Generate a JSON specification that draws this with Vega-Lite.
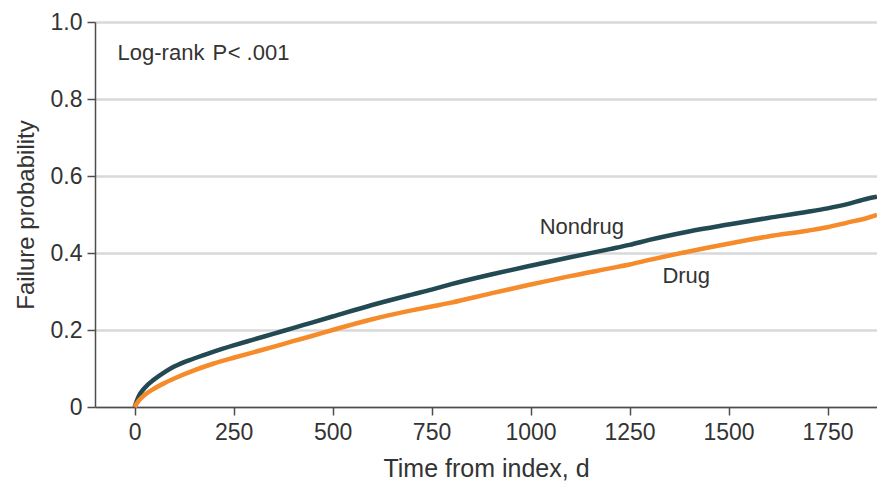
{
  "$schema": "https://vega.github.io/schema/vega-lite/v6.json",
  "width": 782,
  "height": 385,
  "autosize": "none",
  "padding": {"left": 95, "top": 22, "right": 0, "bottom": 76},
  "config": {
    "view": {"stroke": null},
    "font": "Liberation Sans",
    "axis": {
      "domainColor": "#4d4d4d",
      "domainWidth": 1.5,
      "tickColor": "#4d4d4d",
      "tickWidth": 1.5,
      "tickSize": 8,
      "labelColor": "#333333",
      "titleColor": "#333333",
      "labelFontSize": 23,
      "titleFontWeight": "normal"
    }
  },
  "datasets": {
    "curves": [
      {"group": "Nondrug", "t": 0, "p": 0},
      {"group": "Nondrug", "t": 10, "p": 0.027},
      {"group": "Nondrug", "t": 25, "p": 0.049},
      {"group": "Nondrug", "t": 50, "p": 0.072},
      {"group": "Nondrug", "t": 75, "p": 0.09},
      {"group": "Nondrug", "t": 100, "p": 0.105},
      {"group": "Nondrug", "t": 150, "p": 0.126},
      {"group": "Nondrug", "t": 200, "p": 0.144},
      {"group": "Nondrug", "t": 250, "p": 0.16},
      {"group": "Nondrug", "t": 300, "p": 0.175},
      {"group": "Nondrug", "t": 350, "p": 0.19},
      {"group": "Nondrug", "t": 400, "p": 0.205},
      {"group": "Nondrug", "t": 450, "p": 0.22},
      {"group": "Nondrug", "t": 500, "p": 0.235},
      {"group": "Nondrug", "t": 600, "p": 0.265},
      {"group": "Nondrug", "t": 700, "p": 0.292},
      {"group": "Nondrug", "t": 750, "p": 0.305},
      {"group": "Nondrug", "t": 800, "p": 0.319},
      {"group": "Nondrug", "t": 900, "p": 0.344},
      {"group": "Nondrug", "t": 1000, "p": 0.367},
      {"group": "Nondrug", "t": 1100, "p": 0.389},
      {"group": "Nondrug", "t": 1200, "p": 0.41},
      {"group": "Nondrug", "t": 1250, "p": 0.421},
      {"group": "Nondrug", "t": 1300, "p": 0.434},
      {"group": "Nondrug", "t": 1400, "p": 0.456},
      {"group": "Nondrug", "t": 1500, "p": 0.474},
      {"group": "Nondrug", "t": 1600, "p": 0.491},
      {"group": "Nondrug", "t": 1700, "p": 0.507},
      {"group": "Nondrug", "t": 1750, "p": 0.516},
      {"group": "Nondrug", "t": 1800, "p": 0.527},
      {"group": "Nondrug", "t": 1850, "p": 0.541},
      {"group": "Nondrug", "t": 1875, "p": 0.546},
      {"group": "Drug", "t": 0, "p": 0},
      {"group": "Drug", "t": 10, "p": 0.016},
      {"group": "Drug", "t": 25, "p": 0.031},
      {"group": "Drug", "t": 50, "p": 0.048},
      {"group": "Drug", "t": 75, "p": 0.062},
      {"group": "Drug", "t": 100, "p": 0.074},
      {"group": "Drug", "t": 150, "p": 0.095},
      {"group": "Drug", "t": 200, "p": 0.113},
      {"group": "Drug", "t": 250, "p": 0.128},
      {"group": "Drug", "t": 300, "p": 0.142},
      {"group": "Drug", "t": 350, "p": 0.156},
      {"group": "Drug", "t": 400, "p": 0.171},
      {"group": "Drug", "t": 450, "p": 0.185},
      {"group": "Drug", "t": 500, "p": 0.2},
      {"group": "Drug", "t": 600, "p": 0.228},
      {"group": "Drug", "t": 700, "p": 0.251},
      {"group": "Drug", "t": 750, "p": 0.261},
      {"group": "Drug", "t": 800, "p": 0.271},
      {"group": "Drug", "t": 900, "p": 0.295},
      {"group": "Drug", "t": 1000, "p": 0.318},
      {"group": "Drug", "t": 1100, "p": 0.34},
      {"group": "Drug", "t": 1200, "p": 0.36},
      {"group": "Drug", "t": 1250, "p": 0.37},
      {"group": "Drug", "t": 1300, "p": 0.382},
      {"group": "Drug", "t": 1400, "p": 0.404},
      {"group": "Drug", "t": 1500, "p": 0.424},
      {"group": "Drug", "t": 1600, "p": 0.443},
      {"group": "Drug", "t": 1700, "p": 0.458},
      {"group": "Drug", "t": 1750, "p": 0.467},
      {"group": "Drug", "t": 1800, "p": 0.479},
      {"group": "Drug", "t": 1850, "p": 0.491},
      {"group": "Drug", "t": 1875, "p": 0.499}
    ],
    "labels": [
      {"label": "Nondrug", "t": 1023, "p": 0.449, "style": "normal"},
      {"label": "Drug", "t": 1333, "p": 0.322, "style": "normal"},
      {"label": "Log-rank", "t": -43, "p": 0.901, "style": "normal"},
      {"label": "P", "t": 197, "p": 0.901, "style": "italic"},
      {"label": "< .001", "t": 235, "p": 0.901, "style": "normal"}
    ]
  },
  "layer": [
    {
      "data": {"name": "curves"},
      "mark": {"type": "line", "strokeWidth": 4.5, "interpolate": "monotone"},
      "encoding": {
        "x": {
          "field": "t",
          "type": "quantitative",
          "scale": {"domain": [-100, 1875], "nice": false, "zero": false},
          "axis": {
            "values": [0, 250, 500, 750, 1000, 1250, 1500, 1750],
            "format": "d",
            "grid": false,
            "labelPadding": 6,
            "title": "Time from index, d",
            "titleFontSize": 25,
            "titlePadding": 12
          }
        },
        "y": {
          "field": "p",
          "type": "quantitative",
          "scale": {"domain": [0, 1], "nice": false},
          "axis": {
            "values": [0, 0.2, 0.4, 0.6, 0.8, 1.0],
            "grid": true,
            "gridColor": "#d9d9d9",
            "gridWidth": 2.5,
            "labelExpr": "datum.value == 0 ? '0' : format(datum.value, '.1f')",
            "labelPadding": 5,
            "title": "Failure probability",
            "titleFontSize": 24,
            "titlePadding": 12
          }
        },
        "color": {
          "field": "group",
          "type": "nominal",
          "scale": {"domain": ["Nondrug", "Drug"], "range": ["#234a52", "#f68b2b"]},
          "legend": null
        }
      }
    },
    {
      "data": {"name": "labels"},
      "mark": {"type": "text", "align": "left", "baseline": "alphabetic", "fontSize": 22, "color": "#333333"},
      "encoding": {
        "x": {"field": "t", "type": "quantitative"},
        "y": {"field": "p", "type": "quantitative"},
        "text": {"field": "label"},
        "fontStyle": {"field": "style", "type": "nominal", "scale": null}
      }
    }
  ]
}
